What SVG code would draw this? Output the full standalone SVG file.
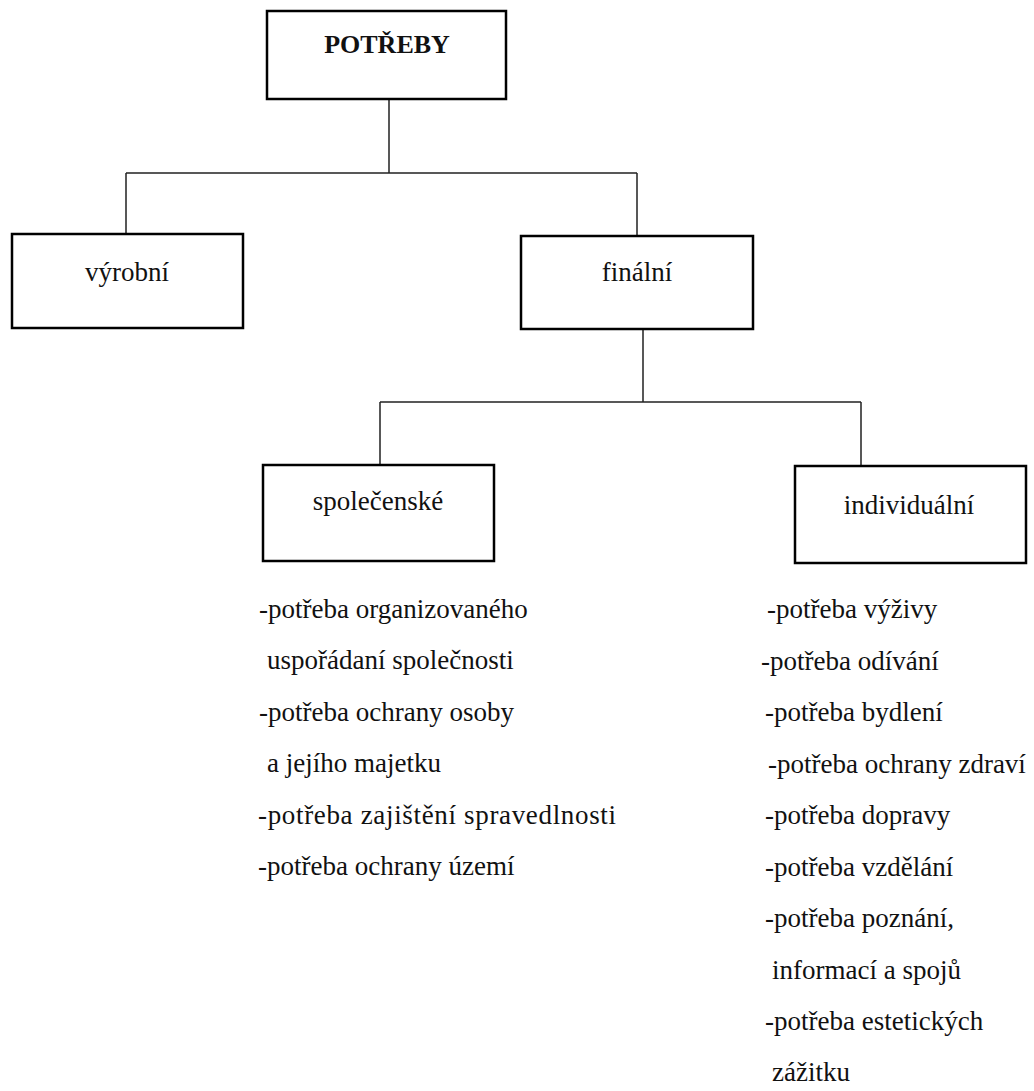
<svg xmlns="http://www.w3.org/2000/svg" width="1034" height="1091" viewBox="0 0 1034 1091">
<style>
.box{fill:#fff;stroke:#000;stroke-width:2.5}
.conn{fill:none;stroke:#222;stroke-width:1.5}
.lbl{font-family:"Liberation Serif","Times New Roman",serif;font-size:27px;fill:#111;text-anchor:middle}
.title{font-family:"Liberation Serif","Times New Roman",serif;font-size:26px;font-weight:bold;fill:#111;text-anchor:middle}
.item{font-family:"Liberation Serif","Times New Roman",serif;font-size:27px;fill:#111}
</style>
<rect width="1034" height="1091" fill="#fff"/>
<g id="connectors">
<path class="conn" d="M389 99 V173 M126 173 H637 M126 173 V234 M637 173 V236"/>
<path class="conn" d="M643 329 V402 M380 402 H861 M380 402 V465 M861 402 V466"/>
</g>
<g id="node-potreby">
<rect class="box" x="267" y="11" width="239" height="88"/>
<text class="title" x="387" y="53">POTŘEBY</text>
</g>
<g id="node-vyrobni">
<rect class="box" x="12" y="234" width="231" height="94"/>
<text class="lbl" x="127" y="281">výrobní</text>
</g>
<g id="node-finalni">
<rect class="box" x="521" y="236" width="232" height="93"/>
<text class="lbl" x="637" y="281">finální</text>
</g>
<g id="node-spolecenske">
<rect class="box" x="263" y="465" width="231" height="96"/>
<text class="lbl" x="378" y="510">společenské</text>
</g>
<g id="node-individualni">
<rect class="box" x="795" y="466" width="231" height="97"/>
<text class="lbl" x="909" y="514">individuální</text>
</g>
<g id="list-spolecenske">
<text class="item" x="259" y="618">-potřeba organizovaného</text>
<text class="item" x="267" y="669">uspořádaní společnosti</text>
<text class="item" x="259" y="721">-potřeba ochrany osoby</text>
<text class="item" x="267" y="772">a jejího majetku</text>
<text class="item" x="258" y="824" textLength="358" lengthAdjust="spacing">-potřeba zajištění spravedlnosti</text>
<text class="item" x="258" y="875">-potřeba ochrany území</text>
</g>
<g id="list-individualni">
<text class="item" x="767" y="618">-potřeba výživy</text>
<text class="item" x="761" y="670">-potřeba odívání</text>
<text class="item" x="765" y="721">-potřeba bydlení</text>
<text class="item" x="768" y="773">-potřeba ochrany zdraví</text>
<text class="item" x="765" y="824">-potřeba dopravy</text>
<text class="item" x="765" y="876">-potřeba vzdělání</text>
<text class="item" x="765" y="927">-potřeba poznání,</text>
<text class="item" x="772" y="979">informací a spojů</text>
<text class="item" x="765" y="1030">-potřeba estetických</text>
<text class="item" x="772" y="1081">zážitku</text>
</g>
</svg>
